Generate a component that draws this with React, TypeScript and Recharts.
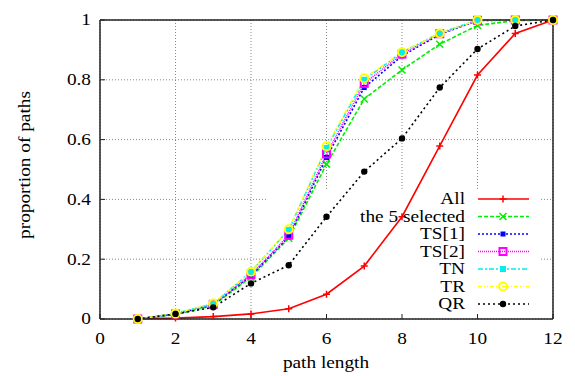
import React from "react";
import {
  CartesianGrid,
  Legend,
  Line,
  LineChart,
  ReferenceArea,
  XAxis,
  YAxis,
} from "recharts";

const pathLength = [1, 2, 3, 4, 5, 6, 7, 8, 9, 10, 11, 12];
const allPaths = [0.001, 0.003, 0.008, 0.017, 0.034, 0.083, 0.177, 0.342, 0.579, 0.816, 0.955, 1.0];
const selected5 = [0.0, 0.015, 0.045, 0.14, 0.27, 0.518, 0.736, 0.833, 0.919, 0.982, 0.998, 1.0];
const ts1 = [0.0, 0.016, 0.048, 0.145, 0.275, 0.54, 0.774, 0.88, 0.952, 0.998, 1.0, 1.0];
const ts2 = [0.0, 0.017, 0.049, 0.148, 0.28, 0.552, 0.788, 0.886, 0.954, 0.999, 1.0, 1.0];
const tn = [0.0, 0.018, 0.051, 0.158, 0.298, 0.572, 0.8, 0.892, 0.956, 1.0, 1.0, 1.0];
const tr = [0.0, 0.018, 0.052, 0.158, 0.3, 0.578, 0.805, 0.892, 0.955, 1.0, 1.0, 1.0];
const qr = [0.0, 0.017, 0.039, 0.119, 0.18, 0.342, 0.493, 0.604, 0.774, 0.903, 0.98, 1.0];

const xTicks = [0, 2, 4, 6, 8, 10, 12];
const yTicks = [0, 0.2, 0.4, 0.6, 0.8, 1];

const SERIF = '"Liberation Serif", "Times New Roman", serif';
const SX = 1.17;
const FS = 16.5;

type Kind = "plus" | "cross" | "fsquare" | "osquare" | "csquare" | "ocircle" | "fcircle";

const series: Array<{
  key: string;
  name: string;
  values: number[];
  color: string;
  dash?: string;
  width: number;
  marker: Kind;
}> = [
  { key: "all", name: "All", values: allPaths, color: "#ff0000", width: 1.6, marker: "plus" },
  { key: "sel", name: "the 5 selected", values: selected5, color: "#00ee00", dash: "4 2", width: 1.6, marker: "cross" },
  { key: "ts1", name: "TS[1]", values: ts1, color: "#0000ff", dash: "2 2", width: 1.6, marker: "fsquare" },
  { key: "ts2", name: "TS[2]", values: ts2, color: "#ff00ff", dash: "1 1", width: 1.6, marker: "osquare" },
  { key: "tn", name: "TN", values: tn, color: "#00eeee", dash: "5 2 2 2", width: 1.6, marker: "csquare" },
  { key: "tr", name: "TR", values: tr, color: "#ffff00", dash: "4 2 1 2 1 2", width: 1.6, marker: "ocircle" },
  { key: "qr", name: "QR", values: qr, color: "#000000", dash: "2 3", width: 1.6, marker: "fcircle" },
];

const chartData = pathLength.map((x, i) => {
  const row: Record<string, number> = { x };
  series.forEach((s) => {
    row[s.key] = s.values[i];
  });
  return row;
});

function Marker({ kind, color, cx, cy }: { kind: Kind; color: string; cx: number; cy: number }) {
  switch (kind) {
    case "plus":
      return (
        <path d={`M${cx - 3.5},${cy}H${cx + 3.5}M${cx},${cy - 3.5}V${cy + 3.5}`} stroke={color} strokeWidth={1.5} />
      );
    case "cross":
      return (
        <path
          d={`M${cx - 3.5},${cy - 3.5}L${cx + 3.5},${cy + 3.5}M${cx - 3.5},${cy + 3.5}L${cx + 3.5},${cy - 3.5}`}
          stroke={color}
          strokeWidth={1.5}
        />
      );
    case "fsquare":
      return <rect x={cx - 2.5} y={cy - 2.5} width={5} height={5} fill={color} />;
    case "csquare":
      return <rect x={cx - 3} y={cy - 3} width={6} height={6} fill={color} />;
    case "osquare":
      return <rect x={cx - 3.5} y={cy - 3.5} width={7} height={7} fill="none" stroke={color} strokeWidth={2} />;
    case "ocircle":
      return <circle cx={cx} cy={cy} r={4} fill="none" stroke={color} strokeWidth={2} />;
    default:
      return <circle cx={cx} cy={cy} r={3.2} fill={color} />;
  }
}

function SText({
  x,
  y,
  anchor = "middle",
  rotate = 0,
  children,
}: {
  x: number;
  y: number;
  anchor?: "start" | "middle" | "end";
  rotate?: number;
  children: React.ReactNode;
}) {
  return (
    <text
      transform={`translate(${x},${y}) rotate(${rotate}) scale(${SX},1)`}
      textAnchor={anchor}
      fontFamily={SERIF}
      fontSize={FS}
      fill="#000"
    >
      {children}
    </text>
  );
}

const XTick = (props: any) => (
  <SText x={props.x} y={props.y + 19.5}>
    {props.payload.value}
  </SText>
);

const YTick = (props: any) => (
  <SText x={props.x} y={props.y + 5.3} anchor="end">
    {props.payload.value}
  </SText>
);

function LegendBox() {
  return (
    <svg width={575} height={376} style={{ position: "absolute", left: 0, top: 0 }}>
      {series.map((s, i) => {
        const y = 199 + i * 17.5;
        return (
          <g key={s.key}>
            <SText x={465} y={y + 5.3} anchor="end">
              {s.name}
            </SText>
            <line x1={478} x2={529} y1={y} y2={y} stroke={s.color} strokeWidth={s.width} strokeDasharray={s.dash} />
            <Marker kind={s.marker} color={s.color} cx={503} cy={y} />
          </g>
        );
      })}
    </svg>
  );
}

export default function App() {
  return (
    <div style={{ position: "absolute", left: 0, top: 0, background: "#fff" }}>
      <LineChart width={575} height={376} data={chartData} margin={{ top: 0, right: 0, bottom: 0, left: 0 }}>
        <CartesianGrid stroke="#888" strokeDasharray="1 2" verticalPoints={undefined} />
        <ReferenceArea x1={4.42} x2={11.68} y1={0.003} y2={0.435} fill="#fff" fillOpacity={1} stroke="none" />
        <XAxis
          dataKey="x"
          type="number"
          domain={[0, 12]}
          ticks={xTicks}
          height={57}
          tickSize={-5}
          tickMargin={10}
          tick={XTick}
          stroke="#222"
          strokeWidth={1.5}
          tickLine={{ stroke: "#222", strokeWidth: 1 }}
          label={{
            value: "path length",
            content: () => <SText x={326} y={368}>path length</SText>,
          }}
        />
        <XAxis
          xAxisId="top"
          orientation="top"
          type="number"
          domain={[0, 12]}
          ticks={xTicks}
          height={20}
          tickSize={-5}
          tick={false}
          stroke="#222"
          strokeWidth={1.5}
          tickLine={{ stroke: "#222", strokeWidth: 1 }}
        />
        <YAxis
          type="number"
          domain={[0, 1]}
          ticks={yTicks}
          width={100}
          tickSize={-5}
          tickMargin={14}
          tick={YTick}
          stroke="#222"
          strokeWidth={1.5}
          tickLine={{ stroke: "#222", strokeWidth: 1 }}
          label={{
            value: "proportion of paths",
            content: () => (
              <SText x={30} y={165} rotate={-90}>
                proportion of paths
              </SText>
            ),
          }}
        />
        <YAxis
          yAxisId="right"
          orientation="right"
          type="number"
          domain={[0, 1]}
          ticks={yTicks}
          width={22}
          tickSize={-5}
          tick={false}
          stroke="#222"
          strokeWidth={1.5}
          tickLine={{ stroke: "#222", strokeWidth: 1 }}
        />
        {series.map((s) => (
          <Line
            key={s.key}
            dataKey={s.key}
            name={s.name}
            type="linear"
            stroke={s.color}
            strokeWidth={s.width}
            strokeDasharray={s.dash}
            isAnimationActive={false}
            dot={(p: any) => <Marker key={`${s.key}-${p.index}`} kind={s.marker} color={s.color} cx={p.cx} cy={p.cy} />}
            activeDot={false}
          />
        ))}
        <Legend
          layout="horizontal"
          verticalAlign="middle"
          align="center"
          wrapperStyle={{ left: 0, top: 0, width: 575, height: 376, pointerEvents: "none" }}
          content={() => <LegendBox />}
        />
      </LineChart>
    </div>
  );
}
